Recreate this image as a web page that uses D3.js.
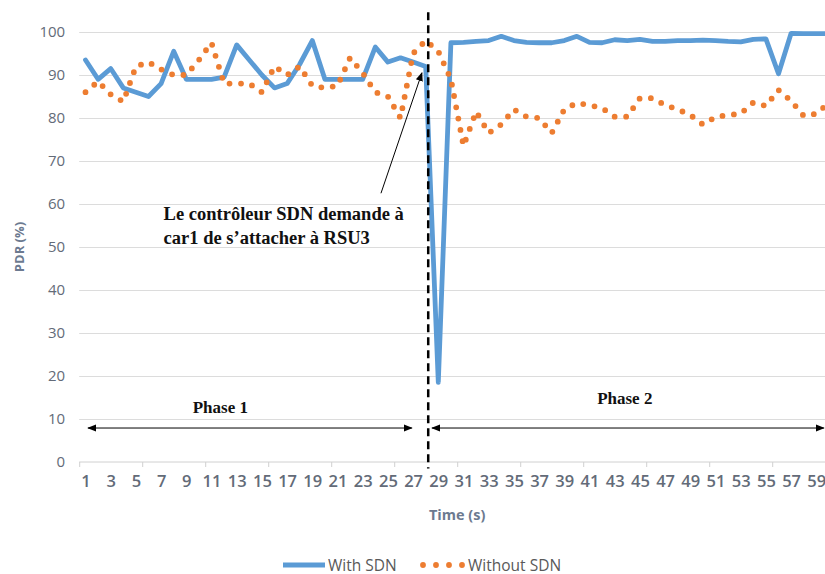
<!DOCTYPE html>
<html><head><meta charset="utf-8">
<script src="https://cdn.jsdelivr.net/npm/d3@7"></script>
<style>body{margin:0;background:#fff} svg{display:block}</style>
</head><body>
<svg id="chart" width="825" height="574"></svg>
<script>
// ---------------- data ----------------
const categories = [1,2,3,4,5,6,7,8,9,10,11,12,13,14,15,16,17,18,19,20,
  21,22,23,24,25,26,27,28,29,30,31,32,33,34,35,36,37,38,39,40,
  41,42,43,44,45,46,47,48,49,50,51,52,53,54,55,56,57,58,59,60];
const withSDN = [93.5,89,91.5,87,86,85,88,95.5,89,89,89,89.5,97,93.5,90,87,88,92.5,98,89,
  89,89,89,96.5,93,94,93,92,18.5,97.5,97.6,97.8,98,99,98,97.6,97.5,97.5,98,99,
  97.6,97.5,98.2,98,98.3,97.8,97.8,98,98,98.1,98,97.8,97.7,98.3,98.4,90.3,99.7,99.6,99.6,99.6];
const withoutSDN = [86,88.5,85.5,83.8,92,93,91.3,90,90,93.5,97.5,88,88,88,86,92,90,92,87.5,87,
  87.5,94,90.5,86,85,80,95,98,95.5,89,73.5,81.5,76.5,78.5,82,80.3,80,76.5,82,83.5,
  83,82.3,80.3,80.3,84.6,84.6,83,82,80.7,78.5,80.2,80.7,81,83.6,82.8,86.5,84,80.5,81,83.5];
const yTicks = [0,10,20,30,40,50,60,70,80,90,100];
const xTickLabels = categories.filter(c => c % 2 === 1);
const seriesNames = ["With SDN", "Without SDN"];
const yTitle = "PDR (%)";
const xTitle = "Time (s)";
const phaseBoundary = 28.2;
const annotationLines = ["Le contrôleur SDN demande à", "car1 de s’attacher à RSU3"];
const phaseLabels = ["Phase 1", "Phase 2"];

// ---------------- layout ----------------
const svg = d3.select("#chart");
const W = 825, H = 574;
const plotL = 79.2, plotR = 835.2, plotT = 32, plotB = 462;
const x = d3.scaleLinear().domain([0.5, 60.5]).range([plotL, plotR]);
const y = d3.scaleLinear().domain([0, 100]).range([plotB, plotT]);
const blue = "#5b9bd5", orange = "#ed7d31";
const tickColor = "#636b78";
const sans = "'Open Sans', 'Noto Sans', sans-serif";
const serif = "'Liberation Serif', 'Times New Roman', serif";

svg.append("rect").attr("width", W).attr("height", H).attr("fill", "#fff");

const defs = svg.append("defs");
defs.append("marker").attr("id", "ah").attr("viewBox", "0 0 10 10")
  .attr("refX", 9).attr("refY", 5).attr("markerWidth", 9).attr("markerHeight", 9)
  .attr("markerUnits", "userSpaceOnUse").attr("orient", "auto-start-reverse")
  .append("path").attr("d", "M0,1 L10,5 L0,9 Z").attr("fill", "#000");

// gridlines
const grid = svg.append("g")
  .attr("transform", `translate(${plotL},0)`)
  .call(d3.axisLeft(y).tickValues(yTicks.filter(v => v > 0)).tickSize(-(W - plotL)).tickFormat(""));
grid.select(".domain").remove();
grid.selectAll(".tick line").attr("stroke", "#dcdcdc").attr("stroke-width", 1);

// y tick labels
const yAxis = svg.append("g")
  .attr("transform", `translate(${plotL - 14},0)`)
  .call(d3.axisLeft(y).tickValues(yTicks).tickSize(0).tickPadding(0));
yAxis.select(".domain").remove();
yAxis.selectAll("text").attr("fill", tickColor).style("font-family", sans).style("font-size", "15px");

// x axis line + tick marks
const xTicksG = svg.append("g")
  .attr("transform", `translate(0,${plotB})`)
  .call(d3.axisBottom(x).tickValues(d3.range(0.5, 61, 5)).tickSize(5).tickFormat(""));
xTicksG.select(".domain").attr("stroke", "#d0d0d0").attr("d", `M${plotL},0H${W}`);
xTicksG.selectAll(".tick line").attr("stroke", "#d0d0d0");

// x tick labels
const xAxis = svg.append("g")
  .attr("transform", `translate(0,${plotB})`)
  .call(d3.axisBottom(x).tickValues(xTickLabels).tickSize(0).tickPadding(13).tickFormat(d3.format("d")));
xAxis.select(".domain").remove();
xAxis.selectAll("text").attr("fill", tickColor).style("font-family", sans)
  .style("font-size", "16.5px").style("font-weight", "600");

// axis titles
svg.append("text").text(xTitle)
  .attr("x", (plotL + plotR) / 2).attr("y", 520).attr("text-anchor", "middle")
  .attr("fill", "#6c7a90").style("font-family", sans).style("font-size", "14.5px").style("font-weight", "700");
svg.append("text").text(yTitle)
  .attr("transform", `translate(24,${(plotT + plotB) / 2}) rotate(-90)`).attr("text-anchor", "middle")
  .attr("fill", "#6c7a90").style("font-family", sans).style("font-size", "13px").style("font-weight", "700");

// series
const line = d3.line().x((d, i) => x(categories[i])).y(d => y(d));
svg.append("path").datum(withSDN).attr("d", line)
  .attr("fill", "none").attr("stroke", blue).attr("stroke-width", 4.8)
  .attr("stroke-linejoin", "round").attr("stroke-linecap", "round");
svg.append("path").datum(withoutSDN).attr("d", line)
  .attr("fill", "none").attr("stroke", orange).attr("stroke-width", 5.8)
  .attr("stroke-linecap", "round").attr("stroke-dasharray", "0 11.5");

// phase boundary
svg.append("line")
  .attr("x1", x(phaseBoundary)).attr("x2", x(phaseBoundary))
  .attr("y1", y(104.6)).attr("y2", y(-1.5))
  .attr("stroke", "#000").attr("stroke-width", 2.5).attr("stroke-dasharray", "8 5");

// annotation
svg.append("line")
  .attr("x1", x(24.45)).attr("y1", y(62.5))
  .attr("x2", x(27.7)).attr("y2", y(90.5))
  .attr("stroke", "#000").attr("stroke-width", 1).attr("marker-end", "url(#ah)");
svg.append("g").selectAll("text").data(annotationLines).join("text")
  .attr("x", x(7.2)).attr("y", (d, i) => y(56.3) + i * 24)
  .text(d => d).attr("fill", "#111")
  .style("font-family", serif).style("font-size", "18.5px").style("font-weight", "700");

// phase arrows
const phases = [
  {label: phaseLabels[0], from: 1.2, to: 26.9, labelAt: 11.7, labelY: 11.3},
  {label: phaseLabels[1], from: 28.5, to: 59.6, labelAt: 43.8, labelY: 13.6}
];
const pg = svg.append("g");
phases.forEach(p => {
  pg.append("line").attr("x1", x(p.from)).attr("x2", x(p.to))
    .attr("y1", y(7.9)).attr("y2", y(7.9))
    .attr("stroke", "#000").attr("stroke-width", 1)
    .attr("marker-start", "url(#ah)").attr("marker-end", "url(#ah)");
  pg.append("text").text(p.label).attr("x", x(p.labelAt)).attr("y", y(p.labelY))
    .attr("text-anchor", "middle").attr("fill", "#111")
    .style("font-family", serif).style("font-size", "17px").style("font-weight", "700");
});

// legend
const lg = svg.append("g").attr("transform", "translate(0,565)");
lg.append("line").attr("x1", 283).attr("x2", 325).attr("y1", 0).attr("y2", 0)
  .attr("stroke", blue).attr("stroke-width", 4.8);
lg.append("text").text(seriesNames[0]).attr("x", 328).attr("y", 5.5)
  .attr("fill", "#595959").style("font-family", sans).style("font-size", "15.5px");
lg.append("line").attr("x1", 423).attr("x2", 463).attr("y1", 0).attr("y2", 0)
  .attr("stroke", orange).attr("stroke-width", 5.8).attr("stroke-linecap", "round")
  .attr("stroke-dasharray", "0 13");
lg.append("text").text(seriesNames[1]).attr("x", 468).attr("y", 5.5)
  .attr("fill", "#595959").style("font-family", sans).style("font-size", "15.5px");
</script>
</body></html>
